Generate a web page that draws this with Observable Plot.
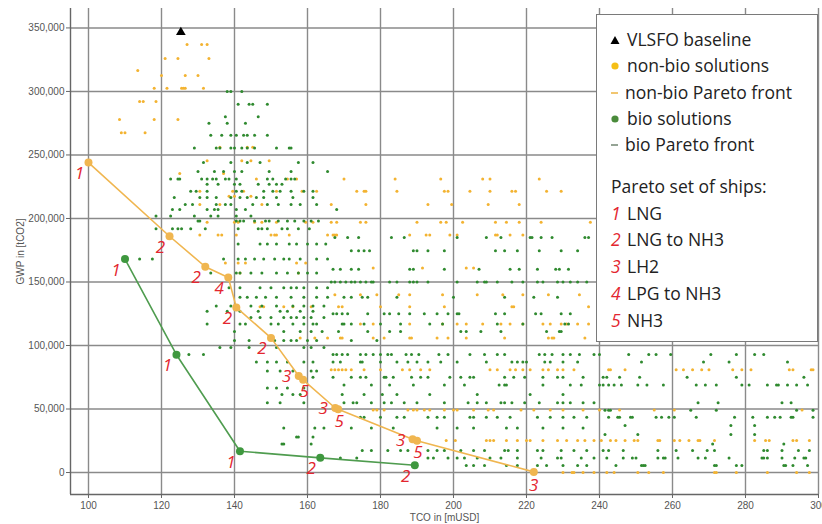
<!DOCTYPE html>
<html>
<head>
<meta charset="utf-8">
<script src="https://cdn.jsdelivr.net/npm/d3@7"></script>
<script src="https://cdn.jsdelivr.net/npm/@observablehq/plot@0.6"></script>
<style>
  body { margin: 0; background: #fff; }
  #wrap { position: relative; width: 822px; height: 524px; }
  #legend { position: absolute; left: 596px; top: 14px; width: 222px; height: 328px;
    border: 1.5px solid #7a7a7a; background: #fff; box-sizing: border-box;
    font-family: "Open Sans", Lato, sans-serif; font-size: 17.5px; color: #222; }
  .row { position: absolute; left: 0; height: 26px; line-height: 26px; white-space: nowrap; }
  .mk { position: absolute; }
  .num { color: #e3262f; font-style: italic; }
</style>
</head>
<body>
<div id="wrap">
  <div id="chart"></div>
  <div id="legend"></div>
</div>
<script>
// ---- axes ticks ----
const tcoTicks = [100, 120, 140, 160, 180, 200, 220, 240, 260, 280, 300];
const gwpTicks = [0, 50000, 100000, 150000, 200000, 250000, 300000, 350000];

// ---- VLSFO baseline ----
const baselineTco = [125.3];
const baselineGwp = [346600];

// ---- non-bio Pareto front (TCO, GWP, ship type) ----
const nonBioFrontTco  = [100, 122.2, 132, 138.3, 140.5, 150, 157.6, 158.8, 167.6, 168.4, 188.8, 190, 222];
const nonBioFrontGwp  = [244000, 186000, 162000, 153500, 130000, 106000, 76000, 73000, 50800, 49800, 26200, 25000, 500];
const nonBioFrontShip = [1, 2, 2, 4, 2, 2, 3, 5, 3, 5, 3, 5, 3];

// ---- bio Pareto front ----
const bioFrontTco  = [110, 124.1, 141.5, 163.5, 189.4];
const bioFrontGwp  = [168000, 92750, 16750, 11550, 5740];
const bioFrontShip = [1, 1, 1, 2, 2];

// ---- bio solutions: rows of [GWP, TCO values] ----
const bioRows = [
[300000, [138, 139, 142]],
[290000, [141, 144, 145, 149]],
[280000, [137.5, 146.5]],
[275000, [133, 138, 143]],
[265500, [133.5, 136.5, 139, 140.5, 142.5, 143.5, 145.5, 149]],
[255500, [129, 135, 136, 139, 140, 142, 143.5, 145.5, 151.5, 155, 155.5]],
[244000, [131.5, 139, 143.5, 147, 157.5, 161.5]],
[237000, [130, 134.5, 137, 140, 142, 149.5, 155.5, 165.5]],
[231000, [122.5, 124.5, 125, 131, 132.5, 134, 135, 137.5, 138.5, 140.5, 149, 150.5, 154, 155.5, 156.5]],
[227000, [132.5, 135.5, 140, 141.5, 146.5, 149.5, 151.5, 153]],
[221500, [128, 129.5, 132.5, 140.5, 142, 148, 150.5, 152.5, 155.5, 159, 161.5]],
[216500, [123.5, 130.5, 132.5, 135, 139, 141.5, 143.5, 146, 148, 151.5, 156, 161.5]],
[211000, [126.5, 128.5, 135, 137.5, 139, 145, 149, 152, 155.5, 158, 162.5]],
[207000, [123, 125, 132.5, 134.5, 135.5, 140.5, 143, 168]],
[202000, [118.5, 122.5, 129, 133.5, 135.5, 140.5, 144.5]],
[198000, [130, 130.5, 140.5, 141.5, 142.5, 145.5, 148.5, 149.5, 152, 154.5, 156.5, 159, 161, 163]],
[192000, [118.5, 123, 124.5, 125.5, 128, 132, 141, 146.5, 147.5, 149, 153, 154.5, 157.5, 160.5]],
[185000, [167.5, 171, 174, 183, 186.5, 201, 209, 213, 221, 221.5, 224, 227, 236, 237]],
[180000, [141, 147, 149, 151.5, 155, 157, 160, 162.5, 165]],
[174500, [172, 174, 175.5, 177, 189, 190, 193, 197.5, 211.5, 214, 217.5, 223.5, 229.5, 234]],
[168000, [114, 117.5, 137, 141, 143, 145.5, 148, 151, 153.5, 155, 158, 162.5, 165.5]],
[160000, [167, 169, 172, 174, 188, 189, 197.5, 207, 215.5, 218, 223, 228, 229, 231.5]],
[157000, [133.5, 140.5, 141.5, 144.5, 147.5, 151.5, 154.5, 157.5, 160, 162.5]],
[150000, [166.5, 167.5, 169, 170.5, 172, 173, 174.5, 176, 177.5, 178, 182.5, 184.5, 188, 189, 190, 193, 201, 206.5, 208.5, 209, 212, 216, 219, 223, 224.5, 228.5, 230, 232, 234, 236.5]],
[145500, [138.5, 141.5, 147, 150, 153.5, 155.5, 157, 159, 162.5, 165.5]],
[138000, [141.5, 143.5, 146, 148.5, 151.5, 155.5, 159, 162.5, 165.5, 170, 172, 175, 176.5, 184.5, 200, 214, 222, 228.5]],
[131000, [135, 139, 144.5, 147.5, 151.5, 156, 159, 161.5, 164.5]],
[127000, [132.5, 138, 141.5, 146.5, 152.5, 154.5, 158, 161.5]],
[125000, [167, 168, 169.5, 171, 176.5, 181, 182.5, 185, 188, 192, 195.5, 198.5, 201, 201.5, 211.5, 214, 222.5, 224, 229.5, 232]],
[122000, [144.5, 147, 150, 153.5, 155.5, 157, 159, 161, 164.5]],
[117000, [132.5, 141.5, 143, 150, 152, 156, 159, 161.5, 162.5, 169.5, 170, 172, 175.5, 180, 185.5, 193.5, 197, 212, 219, 230.5, 231.5]],
[111000, [140, 153.5, 158, 161, 164, 168.5, 176.5, 182.5, 185.5, 202, 203.5, 207.5, 213, 225.5, 229, 229.5]],
[104000, [140, 144, 151, 153.5, 155.5, 157, 160, 162.5, 172, 179]],
[98500, [136, 139, 144, 151.5, 159, 161, 164.5]],
[93000, [127.5, 131.5, 167, 168, 169.5, 171, 174.5, 176, 178, 180, 182, 183, 187, 188.5, 190.5, 196, 198.5, 204.5, 208.5, 212, 214, 223.5, 225, 227, 230, 232, 234.5, 238.5, 240, 248, 253.5, 255.5, 259.5, 270.5, 277.5, 282.5, 285]],
[87000, [146, 149, 151.5, 154.5, 159, 161.5, 167, 169, 174.5, 175, 180, 184.5, 187.5, 190, 193, 196.5, 201, 209, 216, 217.5, 219, 220, 225, 226.5, 230, 234, 251.5, 268.5, 275.5, 291.5]],
[80000, [149, 152.5, 156, 161, 162.5]],
[75000, [158, 161.5, 167, 172, 174.5, 176, 181, 181.5, 183.5, 188.5, 191, 193, 199, 202, 204.5, 205.5, 214, 216.5, 219.5, 224.5, 228.5, 230, 235.5, 241, 242, 245.5, 251, 264, 277.5, 296]],
[69000, [170, 177.5, 182.5, 189, 197.5, 203, 212.5, 214, 214.5, 224.5, 232, 235, 240, 241, 242.5, 244, 246, 250.5, 253, 257.5, 266.5, 269, 272, 279, 281, 286, 288.5, 289, 291.5, 294, 297]],
[66500, [149, 151.5, 154.5, 159]],
[61500, [153, 156, 158, 169.5, 175.5, 180.5, 184.5, 193.5, 206.5, 221, 230]],
[55000, [149, 152.5, 159, 170, 172.5, 173.5, 177.5, 181, 183, 186.5, 190, 197.5, 204, 206.5, 209, 213, 214, 216, 219.5, 223.5, 228.5, 230, 232, 235.5, 238.5, 267, 272.5, 290, 292.5]],
[49000, [241.5, 242.5, 243, 265, 272, 294, 298.5]],
[43500, [174.5, 175.5, 180, 184.5, 186.5, 193, 195.5, 197.5, 204.5, 205.5, 209, 212, 215.5, 223, 226.5, 230, 233, 236.5, 242.5, 245, 245.5, 248.5, 249, 255.5, 257, 259, 260.5, 266.5, 277, 282, 286, 288, 289.5, 292.5, 293, 298.5]],
[37000, [247, 276, 282.5]],
[35000, [153.5, 162, 164.5, 172, 177.5, 183.5, 195.5, 201, 205.5, 214.5, 217.5, 224.5, 230, 235.5]],
[30000, [241.5, 250.5, 276, 282.5]],
[28000, [157, 157.5, 161.5]],
[22500, [153, 153.5, 161, 271, 290.5]],
[17300, [175, 177.5, 182, 185.5, 187.5, 193, 195.5, 197.5, 202, 205.5, 208.5, 214, 215, 217.5, 223, 224.5, 229.5, 233, 236.5, 241, 242.5, 246.5, 256, 261, 265.5, 269.5, 271.5, 285, 286, 290, 294.5, 297.5]],
[11500, [169, 173.5, 193, 194.5, 198.5, 201, 203, 206.5, 210, 213, 217.5, 224, 228.5, 229.5, 235, 238.5, 242, 246.5, 249, 250, 256, 257.5, 258, 261.5, 267, 269, 275.5, 284.5, 285, 286, 290, 293.5, 296, 296.5]],
[5500, [203.5, 205.5, 208.5, 214.5, 217.5, 223, 225.5, 230, 234, 236.5, 244.5, 251.5, 252, 252.5, 271.5, 272, 277.5, 279, 290.5, 291, 293, 297]]
];

// ---- non-bio solutions: rows of [GWP, TCO values] ----
const nonBioRows = [
[337000, [127, 131, 132.5]],
[326000, [121, 124.5, 133]],
[316500, [113.5]],
[312500, [120, 126.5, 130]],
[302500, [118, 121.5, 125.5, 126, 126.5, 131.5]],
[292000, [114, 115, 118.5]],
[278000, [108.5, 118, 124.5]],
[267500, [109, 110, 115.5]],
[256000, [136, 143.5, 145]],
[245500, [132.5, 142, 144.5, 149.5]],
[235500, [125, 137]],
[231000, [146, 154.5, 157, 170, 184, 196.5, 208, 210, 223.5]],
[221500, [130.5, 139.5, 142.5, 151.5, 158.5, 162.5, 173.5, 175.5, 176, 184.5, 197.5, 198.5, 204.5, 210, 216, 217, 225.5, 229.5]],
[217500, [138.5, 140, 144.5]],
[211000, [130.5, 136, 147.5, 166.5, 176, 193, 199.5, 209.5, 218]],
[197000, [132.5, 140, 141, 145.5, 147.5, 151.5, 159.5, 161.5, 166.5, 168, 174.5, 176, 190, 196.5, 198, 202.5, 211.5, 214.5, 218, 224, 237.5]],
[187000, [130.5, 135.5, 136.5, 140.5, 150, 151, 151.5, 155, 165.5, 167, 167.5, 168, 188, 192.5, 193.5, 199, 201, 211.5, 212, 215.5, 219]],
[165000, [137.5, 141, 143, 157, 159.5]],
[161000, [178, 191.5, 203.5, 205.5]],
[157000, [141.5, 157.5]],
[140000, [167.5, 174.5, 179, 185, 188, 197, 206.5, 213.5, 219, 226, 234.5]],
[130500, [147, 148, 153.5, 156, 161, 168.5, 169.5, 180, 188, 197.5, 216, 216.5, 237]],
[117000, [174.5, 178, 188, 197, 201, 203.5, 208, 213, 215.5, 219, 224.5, 226.5, 229.5, 231, 234, 237]],
[106000, [158, 162, 165.5, 169, 169.5, 178, 181, 188, 188.5, 195.5, 198.5, 203.5, 214, 226, 227, 227.5, 236]],
[81000, [166.5, 167.5, 168.5, 169.5, 170.5, 172, 175.5, 180, 186, 188, 191, 193.5, 210, 212, 215.5, 217, 219, 221, 224.5, 226, 228.5, 230, 233, 242.5, 243, 247, 261, 263, 265.5, 268, 270, 276.5, 279, 281.5, 292, 293, 298, 298.5]],
[49300, [178, 179, 181, 187.5, 189, 190, 192, 193.5, 197.5, 200, 201, 205.5, 209.5, 211, 218.5, 222, 226.5, 230, 235.5, 240, 245.5, 255, 260.5, 295.5]],
[25200, [198, 200.5, 209, 210, 211, 214.5, 217.5, 220, 221, 224.5, 228.5, 231, 234, 236, 238.5, 240.5, 243, 244.5, 247, 249.5, 250.5, 256, 256.5, 260.5, 262, 264.5, 267, 267.5, 271.5, 282.5, 285.5, 286.5, 293, 294, 297.5]],
[0, [230, 232.5, 233, 235.5, 238.5, 242, 244, 250.5, 253.5, 257.5, 271.5, 272, 277.5, 286, 294, 297.5]]
];

// ---- legend texts ----
const legendSeries = ["VLSFO baseline", "non-bio solutions", "non-bio Pareto front", "bio solutions", "bio Pareto front"];
const legendTitle = "Pareto set of ships:";
const shipNumbers = ["1", "2", "3", "4", "5"];
const shipNames = ["LNG", "LNG to NH3", "LH2", "LPG to NH3", "NH3"];

// ---- build tables ----
const flatten = rows => rows.flatMap(([g, ts]) => ts.map(t => ({tco: t, gwp: g})));
const bio = flatten(bioRows);
const nonBio = flatten(nonBioRows);
const nbFront = nonBioFrontTco.map((t, i) => ({tco: t, gwp: nonBioFrontGwp[i], ship: nonBioFrontShip[i], last: i === nonBioFrontTco.length - 1}));
const bFront = bioFrontTco.map((t, i) => ({tco: t, gwp: bioFrontGwp[i], ship: bioFrontShip[i], last: false}));
const baseline = baselineTco.map((t, i) => ({tco: t, gwp: baselineGwp[i]}));

const ORANGE = "#f3b331";
const ORANGE_LINE = "#f0b650";
const GREEN = "#2f8a2f";
const GREEN_LINE = "#4f9c4f";
const RED = "#e3262f";
const X0 = 95.07, Y0 = -17300;

const labelStyle = {x: "tco", y: "gwp", text: d => String(d.ship), fill: RED, fontSize: 17,
  fontStyle: "italic", fontFamily: "'Open Sans', Lato, sans-serif"};
const fronts = nbFront.concat(bFront);

const chart = Plot.plot({
  width: 822, height: 524,
  marginLeft: 70, marginRight: 4, marginTop: 8, marginBottom: 30,
  x: {domain: [X0, 300]},
  y: {domain: [Y0, 365300]},
  style: {fontFamily: "'Liberation Sans', Arial, sans-serif", fontSize: "10px", color: "#555", background: "#fff"},
  marks: [
    Plot.gridX(tcoTicks, {stroke: "#8a8a8a", strokeOpacity: 1, strokeWidth: 1.4}),
    Plot.gridY(gwpTicks, {stroke: "#8a8a8a", strokeOpacity: 1, strokeWidth: 1.4}),
    Plot.ruleX([X0], {stroke: "#666", strokeWidth: 1.4}),
    Plot.ruleY([Y0], {stroke: "#666", strokeWidth: 1.4}),
    Plot.axisY(gwpTicks, {tickSize: 4, tickPadding: 2, stroke: "#666", fill: "#555",
      label: "GWP in [tCO2]", labelAnchor: "center", labelOffset: 54, labelArrow: "none"}),
    Plot.axisX(tcoTicks, {tickSize: 4, tickPadding: 3, stroke: "#666", fill: "#555",
      label: "TCO in [mUSD]", labelAnchor: "center", labelOffset: 26, labelArrow: "none"}),
    Plot.dot(nonBio, {x: "tco", y: "gwp", r: 1.5, fill: ORANGE, stroke: "none"}),
    Plot.dot(bio, {x: "tco", y: "gwp", r: 1.5, fill: GREEN, stroke: "none"}),
    Plot.line(nbFront, {x: "tco", y: "gwp", stroke: ORANGE_LINE, strokeWidth: 1.6}),
    Plot.line(bFront, {x: "tco", y: "gwp", stroke: GREEN_LINE, strokeWidth: 1.6}),
    Plot.dot(nbFront, {x: "tco", y: "gwp", r: 4, fill: ORANGE_LINE, stroke: "none"}),
    Plot.dot(bFront, {x: "tco", y: "gwp", r: 4, fill: "#3f983f", stroke: "none"}),
    Plot.dot(baseline, {x: "tco", y: "gwp", symbol: "triangle", r: 3.6, fill: "#000", stroke: "none"}),
    Plot.text(fronts.filter(d => !d.last && d.ship !== 3 && d.ship !== 5), {...labelStyle, dx: -9, dy: 11}),
    Plot.text(fronts.filter(d => !d.last && d.ship === 3), {...labelStyle, dx: -12, dy: 1}),
    Plot.text(fronts.filter(d => !d.last && d.ship === 5), {...labelStyle, dx: 1, dy: 12}),
    Plot.text(fronts.filter(d => d.last), {...labelStyle, dx: 0, dy: 14})
  ]
});
document.getElementById("chart").appendChild(chart);

// ---- legend ----
const legend = document.getElementById("legend");
const rowCenters = [24, 50, 77, 103, 129];
const markers = [
  '<svg class="mk" style="left:12px;top:8px" width="12" height="12"><path d="M6 2 L10.5 10 L1.5 10 Z" fill="#000"/></svg>',
  '<svg class="mk" style="left:12px;top:8px" width="12" height="12"><circle cx="6" cy="6" r="3.6" fill="#f5bf16"/></svg>',
  '<svg class="mk" style="left:12px;top:8px" width="12" height="12"><line x1="2" x2="9" y1="6" y2="6" stroke="#f0c060" stroke-width="1.8"/></svg>',
  '<svg class="mk" style="left:12px;top:8px" width="12" height="12"><circle cx="6" cy="6" r="3.6" fill="#4a8b3b"/></svg>',
  '<svg class="mk" style="left:12px;top:8px" width="12" height="12"><line x1="2" x2="9" y1="6" y2="6" stroke="#8a9a8a" stroke-width="1.8"/></svg>'
];
let html = "";
legendSeries.forEach((s, i) => {
  html += `<div class="row" style="top:${rowCenters[i] - 13}px;width:100%">${markers[i]}<span style="position:absolute;left:${i === 2 || i === 4 ? 28 : 30}px">${s}</span></div>`;
});
html += `<div class="row" style="top:${171 - 13}px;left:14px">${legendTitle}</div>`;
const shipCenters = [198, 224, 251, 278, 305];
shipNames.forEach((n, i) => {
  html += `<div class="row" style="top:${shipCenters[i] - 13}px;left:14px"><span class="num">${shipNumbers[i]}</span></div>`;
  html += `<div class="row" style="top:${shipCenters[i] - 13}px;left:30px">${n}</div>`;
});
legend.innerHTML = html;
</script>
</body>
</html>
